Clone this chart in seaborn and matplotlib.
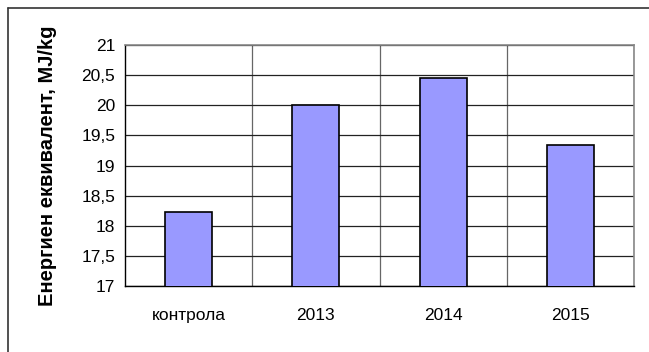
import matplotlib
matplotlib.use("Agg")
import matplotlib.pyplot as plt
from matplotlib.lines import Line2D
from matplotlib.ticker import FixedLocator, FuncFormatter
import seaborn as sns
import pandas as pd

# data
categories = ["контрола", "2013", "2014", "2015"]
values = [18.23, 20.0, 20.45, 19.34]
y_ticks = [17, 17.5, 18, 18.5, 19, 19.5, 20, 20.5, 21]

df = pd.DataFrame({"cat": categories, "val": values})

sns.set_style("white")
plt.rcParams["font.family"] = ["Liberation Sans", "DejaVu Sans"]
plt.rcParams["text.color"] = "black"
plt.rcParams["xtick.color"] = "black"
plt.rcParams["ytick.color"] = "black"
plt.rcParams["axes.labelcolor"] = "black"

fig = plt.figure(figsize=(6.49, 3.52), dpi=100)
ax = fig.add_axes([125 / 649, 1 - 286 / 352, (634 - 125) / 649, (286 - 45) / 352])

sns.barplot(data=df, x="cat", y="val", ax=ax, color="#9999FF", saturation=1,
            width=0.37, edgecolor="black", linewidth=1.2, zorder=3)

ax.set_xlim(-0.5, 3.5)
ax.set_ylim(17, 21)
ax.set_yticks(y_ticks)
ax.yaxis.set_major_formatter(FuncFormatter(lambda v, p: f"{v:g}".replace(".", ",")))

# vertical grid between categories
ax.xaxis.set_minor_locator(FixedLocator([0.5, 1.5, 2.5, 3.5]))
ax.grid(True, axis="y", which="major", color="#222222", linewidth=0.9, zorder=0)
ax.grid(True, axis="x", which="minor", color="#666666", linewidth=0.9, zorder=0)
ax.set_axisbelow(True)

ax.tick_params(axis="x", which="major", length=0, pad=16, labelsize=12.5)
ax.tick_params(axis="x", which="minor", direction="out", length=5, width=0.9, color="black")
ax.tick_params(axis="y", direction="out", length=6, width=0.9, color="black", labelsize=12.5, pad=1)

ax.set_xlabel("")
ax.set_ylabel("Енергиен еквивалент, MJ/kg", fontsize=14.5, fontweight="bold")
ax.yaxis.set_label_coords(-0.133, 0.5)

for side in ["left", "bottom"]:
    ax.spines[side].set_color("black")
    ax.spines[side].set_linewidth(1.0)
for side in ["top", "right"]:
    ax.spines[side].set_color("#888888")
    ax.spines[side].set_linewidth(1.2)

# chart frame (only top and left visible in the reference)
fig.add_artist(Line2D([8 / 649, 1], [1 - 7.5 / 352, 1 - 7.5 / 352],
                      transform=fig.transFigure, color="#333333", linewidth=1.2))
fig.add_artist(Line2D([8 / 649, 8 / 649], [0, 1 - 7.5 / 352],
                      transform=fig.transFigure, color="#333333", linewidth=1.2))

fig.savefig("out.png", dpi=100)
